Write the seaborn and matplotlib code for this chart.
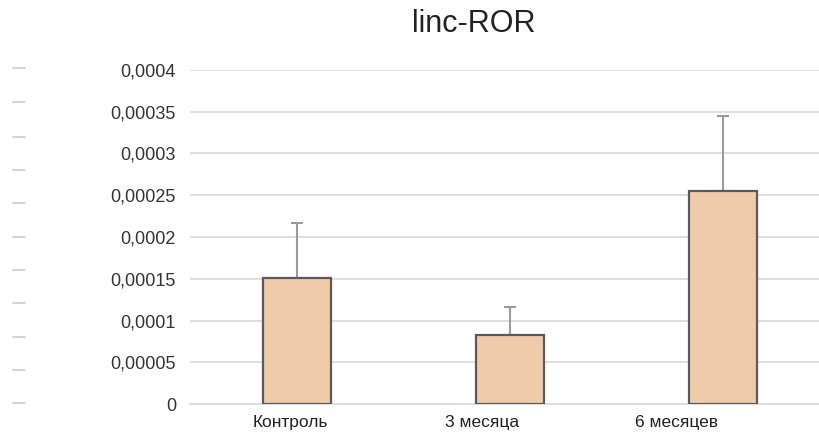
import numpy as np
import pandas as pd
import seaborn as sns
import matplotlib.pyplot as plt
from matplotlib.lines import Line2D

# data
groups = ['Контроль', '3 месяца', '6 месяцев']
means = [0.000151, 0.0000826, 0.000255]
errors = [0.0000658, 0.0000336, 0.00009]
y_ticks = [0, 0.00005, 0.0001, 0.00015, 0.0002, 0.00025, 0.0003, 0.00035, 0.0004]
y_tick_labels = ['0', '0,00005', '0,0001', '0,00015', '0,0002', '0,00025', '0,0003', '0,00035', '0,0004']

df = pd.DataFrame({'group': groups, 'value': means})

sns.set_style('white')
plt.rcParams['font.family'] = ['Liberation Sans', 'DejaVu Sans']

fig = plt.figure(figsize=(8.19, 4.43), dpi=100)
ax = fig.add_axes([0.232, 0.088, 0.768, 0.754])

sns.barplot(data=df, x='group', y='value', color='#F0CBAA', width=0.32,
            edgecolor='#5a5a5a', linewidth=1.6, saturation=1, ax=ax, zorder=3)

# one-sided error bars, upwards only
ax.errorbar(range(len(groups)), means, yerr=[np.zeros(len(errors)), errors],
            fmt='none', ecolor='#9a9a9a', elinewidth=1.5, capsize=4, capthick=1.5, zorder=2)

ax.set_ylim(0, 0.0004)
ax.set_xlim(-0.5, 2.45)
# category labels sit a bit left of the bars in the original screenshot
ax.set_xticks([-0.03, 0.87, 1.78])
ax.set_xticklabels(groups)
ax.set_yticks(y_ticks)
ax.set_yticklabels(y_tick_labels)
ax.yaxis.grid(True, color='#d9d9d9', linewidth=1.2, zorder=0)
ax.set_axisbelow(True)
for s in ['top', 'right', 'left']:
    ax.spines[s].set_visible(False)
ax.spines['bottom'].set_color('#d9d9d9')
ax.spines['bottom'].set_linewidth(1.2)
ax.tick_params(axis='y', length=0, pad=10, labelsize=13, labelcolor='#333333')
ax.tick_params(axis='x', length=0, pad=8, labelsize=12.5, labelcolor='#222222')
ax.set_xlabel('')
ax.set_ylabel('')

fig.text(0.579, 0.946, 'linc-ROR', ha='center', va='center', fontsize=22, color='#222222')

# faint dashes down the left edge of the screenshot
for yp in [68, 102, 137, 170, 203, 237, 270, 303, 337, 370, 403]:
    fig.add_artist(Line2D([13 / 819, 25 / 819], [1 - yp / 443, 1 - yp / 443],
                          color='#cccccc', linewidth=1.2))

fig.savefig('out.png', dpi=100)
